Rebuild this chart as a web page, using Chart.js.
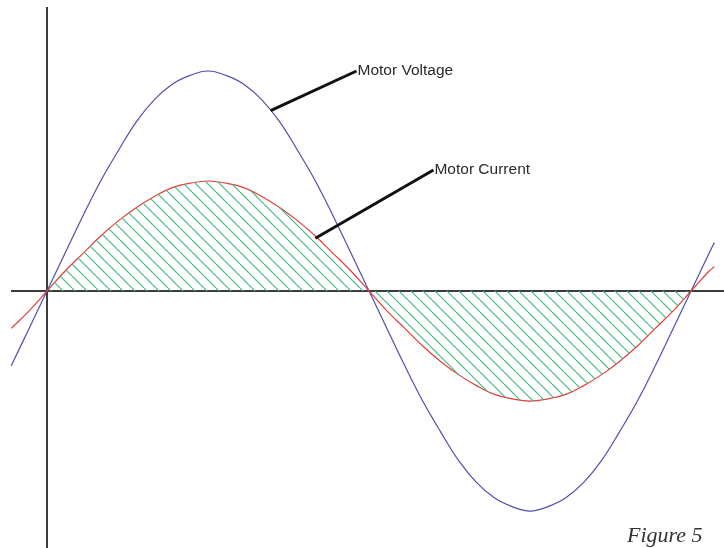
<!DOCTYPE html>
<html>
<head>
<meta charset="utf-8">
<title>Figure 5</title>
<script src="https://cdn.jsdelivr.net/npm/chart.js@4"></script>
<style>
  body { margin: 0; background: #fff; }
  #wrap { position: relative; width: 724px; height: 548px; }
  #fig { position: absolute; left: 627px; top: 522px; font: italic 22px "Liberation Serif", serif; color: #333; }
</style>
</head>
<body>
<div id="wrap">
  <canvas id="myChart" width="724" height="548"></canvas>
  <div id="fig">Figure 5</div>
</div>
<script>
// phase angle (degrees) and the two waveforms
const angles  = [-20, -10, 0, 10, 20, 30, 40, 50, 60, 70, 80, 90, 100, 110, 120, 130, 140, 150, 160, 170, 180,
                 190, 200, 210, 220, 230, 240, 250, 260, 270, 280, 290, 300, 310, 320, 330, 340, 350, 360, 370, 373];
const voltage = [-34, -17, 0, 17, 34, 50, 64, 77, 87, 94, 98, 100, 98, 94, 87, 77, 64, 50, 34, 17, 0,
                 -17, -34, -50, -64, -77, -87, -94, -98, -100, -98, -94, -87, -77, -64, -50, -34, -17, 0, 17, 22];
const current = [-17, -9, 0, 9, 17, 25, 32, 38, 43, 47, 49, 50, 49, 47, 43, 38, 32, 25, 17, 9, 0,
                 -9, -17, -25, -32, -38, -43, -47, -49, -50, -49, -47, -43, -38, -32, -25, -17, -9, 0, 9, 11];

// callout labels: text, point on the curve, end of leader (data units)
const calloutText = ['Motor Voltage', 'Motor Current'];
const calloutFrom = [[125, 82], [150, 24]];
const calloutTo   = [[173, 100], [216, 55]];

const pts = (ys) => angles.map((a, i) => ({x: a, y: ys[i]}));
const hatchPts = pts(current).filter(p => p.x >= 0 && p.x <= 360);

// diagonal hatch pattern
function makeHatch() {
  const c = document.createElement('canvas');
  c.width = 12; c.height = 12;
  const g = c.getContext('2d');
  g.strokeStyle = 'rgb(70,185,130)';
  g.lineWidth = 1.2;
  for (let k = -12; k <= 12; k += 12) {
    g.beginPath();
    g.moveTo(k, 0);
    g.lineTo(k + 12, 12);
    g.stroke();
  }
  return g.createPattern(c, 'repeat');
}

const axesPlugin = {
  id: 'axesLines',
  beforeDatasetsDraw(chart) {
    const ctx = chart.ctx;
    const x0 = chart.scales.x.getPixelForValue(0);
    const y0 = chart.scales.y.getPixelForValue(0);
    ctx.save();
    ctx.strokeStyle = '#3c3c3c';
    ctx.lineWidth = 2;
    ctx.beginPath();
    ctx.moveTo(x0, 7); ctx.lineTo(x0, chart.height);
    ctx.moveTo(11, y0); ctx.lineTo(chart.width, y0);
    ctx.stroke();
    ctx.restore();
  }
};

const calloutPlugin = {
  id: 'callouts',
  afterDatasetsDraw(chart) {
    const ctx = chart.ctx, sx = chart.scales.x, sy = chart.scales.y;
    ctx.save();
    for (let i = 0; i < calloutText.length; i++) {
      const ax = sx.getPixelForValue(calloutFrom[i][0]), ay = sy.getPixelForValue(calloutFrom[i][1]);
      const bx = sx.getPixelForValue(calloutTo[i][0]), by = sy.getPixelForValue(calloutTo[i][1]);
      ctx.strokeStyle = '#111';
      ctx.lineWidth = 3;
      ctx.beginPath();
      ctx.moveTo(ax, ay); ctx.lineTo(bx, by);
      ctx.stroke();
      ctx.fillStyle = '#2a2a2a';
      ctx.font = '15.5px "Liberation Sans", Arial, sans-serif';
      ctx.textBaseline = 'middle';
      ctx.fillText(calloutText[i], bx + 1, by);
    }
    ctx.restore();
  }
};

const data = {
  datasets: [{
    label: 'hatch',
    data: hatchPts,
    borderWidth: 0,
    pointRadius: 0,
    fill: 'origin',
    backgroundColor: makeHatch(),
    tension: 0.4
  }, {
    label: 'Motor Current',
    data: pts(current),
    borderColor: 'rgb(230,60,60)',
    borderWidth: 1.2,
    pointRadius: 0,
    fill: false,
    tension: 0.4
  }, {
    label: 'Motor Voltage',
    data: pts(voltage),
    borderColor: 'rgb(80,80,170)',
    borderWidth: 1.2,
    pointRadius: 0,
    fill: false,
    tension: 0.4
  }]
};

const config = {
  type: 'line',
  data,
  options: {
    responsive: false,
    animation: false,
    devicePixelRatio: 1,
    layout: { padding: 0 },
    plugins: { legend: { display: false }, tooltip: { enabled: false } },
    scales: {
      x: { type: 'linear', min: -26.27, max: 378.4, display: false },
      y: { min: -116.8, max: 132.27, display: false }
    }
  },
  plugins: [axesPlugin, calloutPlugin]
};

const myChart = new Chart(document.getElementById('myChart'), config);
</script>
</body>
</html>
